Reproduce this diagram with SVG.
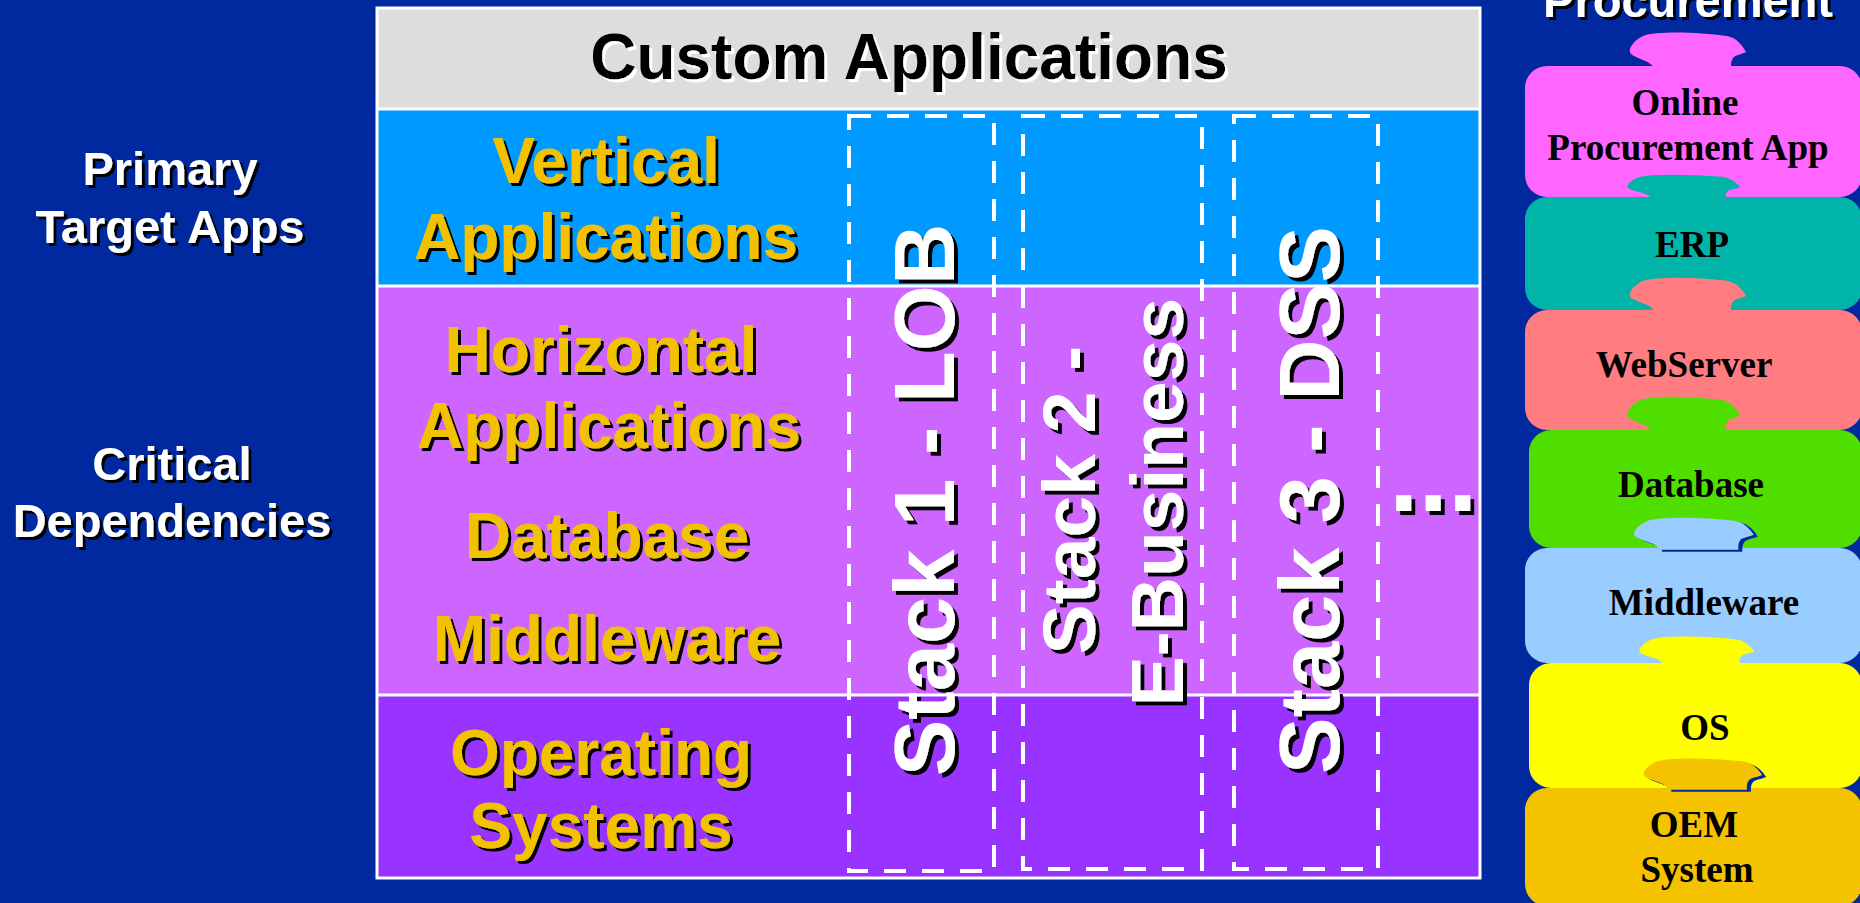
<svg xmlns="http://www.w3.org/2000/svg" xmlns:xlink="http://www.w3.org/1999/xlink" width="1860" height="903" viewBox="0 0 1860 903">
  <style>
    .sans { font-family: "Liberation Sans", Arial, sans-serif; font-weight: bold; }
    .serif { font-family: "Liberation Serif", "Times New Roman", serif; font-weight: bold; fill: #000; font-size: 37px; text-anchor: middle; }
    .gold { fill: #F2C200; font-size: 64px; text-anchor: middle; }
    .side { fill: #fff; font-size: 47px; text-anchor: middle; }
    .stack { fill: #fff; text-anchor: middle; }
    .rule { stroke: #fff; stroke-width: 3; fill: none; }
    .dash { fill: none; stroke: #fff; stroke-width: 4; stroke-dasharray: 22 16; }
  </style>
  <defs>
    <!-- hard drop shadows -->
    <filter id="shK3" x="-10%" y="-10%" width="120%" height="130%">
      <feFlood flood-color="#000"/>
      <feComposite in2="SourceAlpha" operator="in"/>
      <feOffset dx="3" dy="3" result="s"/>
      <feMerge><feMergeNode in="s"/><feMergeNode in="SourceGraphic"/></feMerge>
    </filter>
    <filter id="shK4" x="-10%" y="-10%" width="130%" height="120%">
      <feFlood flood-color="#000"/>
      <feComposite in2="SourceAlpha" operator="in"/>
      <feOffset dx="4" dy="4" result="s"/>
      <feMerge><feMergeNode in="s"/><feMergeNode in="SourceGraphic"/></feMerge>
    </filter>
    <filter id="shW3" x="-10%" y="-10%" width="120%" height="130%">
      <feFlood flood-color="#fff"/>
      <feComposite in2="SourceAlpha" operator="in"/>
      <feOffset dx="3" dy="3" result="s"/>
      <feMerge><feMergeNode in="s"/><feMergeNode in="SourceGraphic"/></feMerge>
    </filter>
    <!-- puzzle knob sitting on top of a layer block; origin = neck base -->
    <path id="knob" d="M -34,2 L -34,0 C -36,-6 -50,-8 -56,-13 C -60,-17 -54,-26 -44,-31 C -30,-36 10,-35 40,-31 C 50,-29 55,-22 59,-15 C 56,-13 48,-12 46,-9 C 44,-6 44,-3 44,0 L 44,2 Z"/>
  </defs>

  <!-- backdrop -->
  <rect x="0" y="0" width="1860" height="903" fill="#0029A0"/>

  <!-- side captions -->
  <g id="caption-primary" class="sans side" filter="url(#shK3)">
    <text x="170" y="185">Primary</text>
    <text x="170" y="243">Target Apps</text>
  </g>
  <g id="caption-critical" class="sans side" filter="url(#shK3)">
    <text x="172" y="480">Critical</text>
    <text x="172" y="537">Dependencies</text>
  </g>

  <!-- layered table -->
  <g id="table">
    <rect x="377" y="8" width="1103" height="101" fill="#DDDDDD"/>
    <rect x="377" y="109" width="1103" height="177" fill="#0099FF"/>
    <rect x="377" y="286" width="1103" height="409" fill="#CC66FF"/>
    <rect x="377" y="695" width="1103" height="183" fill="#9933FF"/>
    <line class="rule" x1="377" y1="109" x2="1480" y2="109"/>
    <line class="rule" x1="377" y1="286" x2="1480" y2="286"/>
    <line class="rule" x1="377" y1="695" x2="1480" y2="695"/>
    <rect class="rule" x="377" y="8" width="1103" height="870"/>
  </g>

  <g id="header" filter="url(#shW3)">
    <text class="sans" x="909" y="79" font-size="64" text-anchor="middle" fill="#000">Custom Applications</text>
  </g>

  <g id="row-vertical" class="sans gold" filter="url(#shK3)">
    <text x="606" y="183">Vertical</text>
    <text x="606" y="259">Applications</text>
  </g>
  <g id="row-horizontal" class="sans gold" filter="url(#shK3)">
    <text x="601" y="372">Horizontal</text>
    <text x="609" y="448">Applications</text>
  </g>
  <g id="row-database" class="sans gold" filter="url(#shK3)">
    <text x="607" y="558">Database</text>
  </g>
  <g id="row-middleware" class="sans gold" filter="url(#shK3)">
    <text x="607" y="661">Middleware</text>
  </g>
  <g id="row-os" class="sans gold" filter="url(#shK3)">
    <text x="601" y="775">Operating</text>
    <text x="601" y="848">Systems</text>
  </g>

  <!-- vertical stacks -->
  <g id="stack-1">
    <rect class="dash" x="849" y="116" width="145" height="755"/>
    <g filter="url(#shK4)">
      <text class="sans stack" x="954" y="500" font-size="85" transform="rotate(-90 954 500)">Stack 1 - LOB</text>
    </g>
  </g>
  <g id="stack-2">
    <rect class="dash" x="1023" y="116" width="179" height="753"/>
    <g filter="url(#shK4)">
      <text class="sans stack" x="1095" y="500" font-size="75" transform="rotate(-90 1095 500)">Stack 2 -</text>
      <text class="sans stack" x="1183" y="502" font-size="75" transform="rotate(-90 1183 502)">E-Business</text>
    </g>
  </g>
  <g id="stack-3">
    <rect class="dash" x="1234" y="116" width="144" height="753"/>
    <g filter="url(#shK4)">
      <text class="sans stack" x="1339" y="500" font-size="85" transform="rotate(-90 1339 500)">Stack 3 - DSS</text>
    </g>
  </g>
  <g id="more-stacks" filter="url(#shK4)">
    <text class="sans" x="1389" y="511" font-size="106" fill="#fff">...</text>
  </g>

  <!-- procurement layer stack -->
  <g id="procurement-title" filter="url(#shK3)">
    <text class="sans side" x="1688" y="17">Procurement</text>
  </g>

  <g id="layer-blocks">
    <rect x="1525" y="66" width="337" height="131" rx="22" fill="#FF66FF"/>
    <rect x="1525" y="197" width="337" height="113" rx="22" fill="#00B5A8"/>
    <rect x="1525" y="310" width="337" height="120" rx="22" fill="#FF7C80"/>
    <rect x="1529" y="430" width="333" height="118" rx="22" fill="#50DD00"/>
    <rect x="1525" y="548" width="337" height="115" rx="22" fill="#99CCFF"/>
    <rect x="1529" y="663" width="333" height="125" rx="22" fill="#FFFF00"/>
    <rect x="1525" y="788" width="337" height="118" rx="22" fill="#F5C200"/>
  </g>

  <g id="layer-knobs">
    <use xlink:href="#knob" transform="translate(1687 67)" fill="#FF66FF"/>
    <use xlink:href="#knob" transform="translate(1683 197) scale(0.97 0.65)" fill="#00B5A8"/>
    <use xlink:href="#knob" transform="translate(1687 310) scale(1 0.94)" fill="#FF7C80"/>
    <use xlink:href="#knob" transform="translate(1683 430) scale(0.97 0.97)" fill="#50DD00"/>
    <use xlink:href="#knob" transform="translate(1697 550) scale(1.03 0.9)" fill="#0029A0"/>
    <use xlink:href="#knob" transform="translate(1693 548) scale(1.03 0.88)" fill="#99CCFF"/>
    <use xlink:href="#knob" transform="translate(1696 663) scale(0.99 0.77)" fill="#FFFF00"/>
    <use xlink:href="#knob" transform="translate(1706 790) scale(1.02 0.86)" fill="#0029A0"/>
    <use xlink:href="#knob" transform="translate(1702 788) scale(1.02 0.86)" fill="#F5C200"/>
  </g>

  <g id="block-app"><text class="serif" x="1685" y="115">Online</text><text class="serif" x="1688" y="160">Procurement App</text></g>
  <g id="block-erp"><text class="serif" x="1692" y="257">ERP</text></g>
  <g id="block-webserver"><text class="serif" x="1684" y="377">WebServer</text></g>
  <g id="block-database"><text class="serif" x="1691" y="497">Database</text></g>
  <g id="block-middleware"><text class="serif" x="1704" y="615">Middleware</text></g>
  <g id="block-os"><text class="serif" x="1705" y="740">OS</text></g>
  <g id="block-oem"><text class="serif" x="1694" y="837">OEM</text><text class="serif" x="1697" y="882">System</text></g>
</svg>
